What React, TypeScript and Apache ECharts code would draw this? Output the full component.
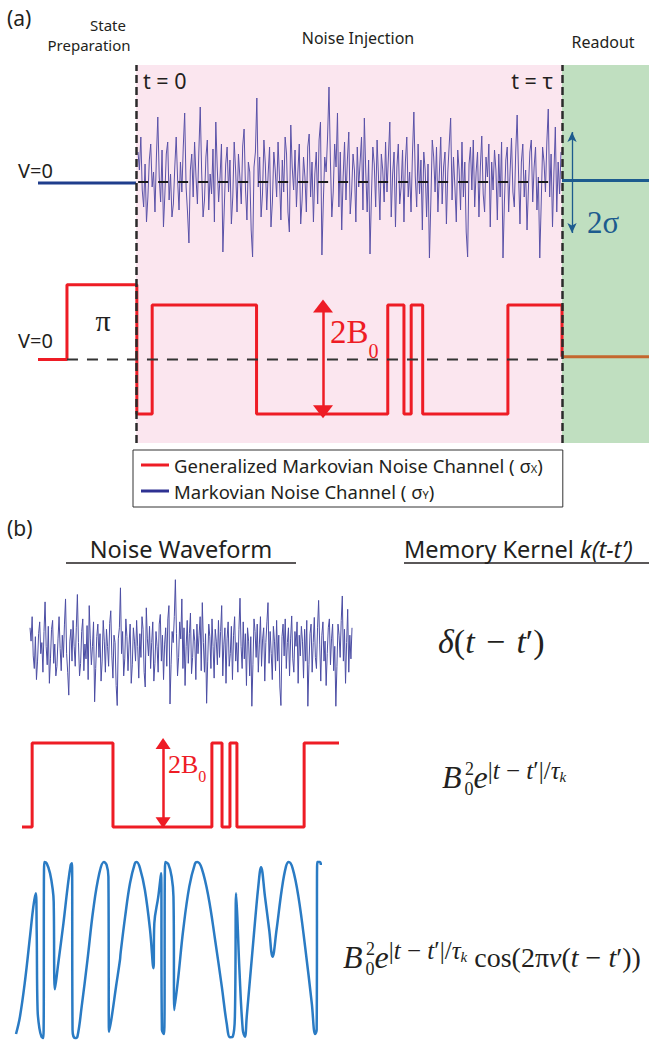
import React, { useEffect, useRef } from "react";
import * as echarts from "echarts";

// ---------------- data ----------------
// sampled noise trace (shared by both noise panels), one value per sample
const noise = [
  0.30, 0.12, 0.45, -0.08, -0.25, 0.18, -0.40, -0.15, 0.22, 0.38, -0.05, 0.10, -0.30, 0.25, 0.65, 0.05, -0.20, 0.32, -0.45, -0.12,
  0.28, 0.40, -0.18, 0.08, -0.35, -0.22, 0.15, 0.45, 0.02, -0.28, 0.20, -0.10, 0.35, 0.69, -0.05, -0.30, -0.61, 0.12, 0.28, -0.15,
  0.40, 0.05, -0.22, 0.30, 0.75, 0.10, -0.35, -0.18, 0.25, 0.42, -0.28, 0.08, -0.12, 0.33, -0.40, 0.60, 0.15, -0.20, 0.05, 0.38,
  -0.70, -0.25, 0.18, 0.35, -0.10, 0.22, -0.42, -0.15, 0.40, 0.12, -0.30, 0.28, 0.05, -0.22, 0.36, 0.53, -0.08, -0.38, 0.20, 0.10,
  -0.48, -0.75, 0.15, 0.30, 0.84, -0.05, 0.25, -0.35, -0.12, 0.42, 0.18, -0.28, 0.08, 0.35, -0.45, -0.20, 0.30, 0.12, -0.15, 0.40,
  0.05, -0.38, 0.22, -0.10, 0.45, 0.28, -0.30, -0.50, 0.57, 0.15, -0.08, 0.32, -0.25, 0.10, 0.38, -0.42, -0.18, 0.25, 0.05, -0.30,
  0.35, 0.48, -0.15, 0.20, -0.40, 0.08, 0.30, -0.22, 0.42, 0.60, -0.73, -0.20, 0.25, 0.10, 0.45, 0.95, 0.22, -0.35, -0.10, 0.38,
  0.15, 0.69, -0.25, 0.30, -0.48, 0.05, 0.40, -0.18, 0.22, 0.50, -0.32, -0.10, 0.28, 0.12, -0.40, 0.35, -0.05, 0.20, 0.45, -0.28,
  0.64, 0.10, -0.30, 0.22, -0.72, -0.15, 0.35, 0.18, -0.25, 0.42, 0.05, -0.38, 0.28, 0.12, -0.20, 0.40, -0.10, 0.25, 0.60, -0.35,
  0.08, 0.30, -0.45, 0.15, 0.38, -0.22, -0.05, 0.32, -0.40, 0.20, 0.45, -0.15, 0.10, -0.30, 0.28, 0.70, 0.05, -0.25, 0.38, -0.12,
  0.22, -0.48, 0.30, 0.12, -0.35, 0.18, -0.76, -0.20, 0.42, 0.25, -0.10, 0.35, -0.30, 0.08, 0.45, -0.22, 0.15, 0.30, -0.42, 0.10,
  0.38, 0.64, -0.18, 0.25, -0.05, -0.40, 0.32, 0.12, -0.28, 0.40, -0.15, 0.20, -0.50, -0.75, 0.18, 0.35, -0.08, 0.42, -0.25, 0.10,
  0.30, -0.35, 0.15, 0.46, -0.12, -0.30, 0.25, 0.05, 0.38, -0.45, 0.20, -0.08, 0.32, 0.12, -0.38, 0.28, -0.15, 0.40, -0.76, -0.20,
  0.22, 0.35, -0.30, 0.10, 0.44, -0.10, -0.25, 0.30, 0.67, 0.08, -0.42, 0.20, 0.38, -0.15, 0.12, -0.48, -0.05, 0.30, 0.42, -0.20,
  0.15, 0.35, -0.28, 0.05, -0.76, -0.22, 0.35, 0.20, -0.10, 0.40, 0.73, -0.15, 0.28, -0.45, 0.10, 0.55, -0.30, 0.20, -0.12, 0.30,
];

// telegraph signal of panel (a): [time (t/tau), level (units of B0)]
const telegraphA = [
  [-0.23, 0], [-0.162, 0], [-0.162, 1.37], [0.002, 1.37], [0.002, -1],
  [0.038, -1], [0.038, 1], [0.283, 1], [0.283, -1], [0.591, -1],
  [0.591, 1], [0.629, 1], [0.629, -1], [0.646, -1], [0.646, 1],
  [0.673, 1], [0.673, -1], [0.873, -1], [0.873, 1], [1.0, 1], [1.0, 0.05],
];
// telegraph signal of panel (b)
const telegraphB = [
  [0, -1], [0.032, -1], [0.032, 1], [0.287, 1], [0.287, -1],
  [0.599, -1], [0.599, 1], [0.631, 1], [0.631, -1], [0.656, -1],
  [0.656, 1], [0.678, 1], [0.678, -1], [0.89, -1], [0.89, 1], [1, 1],
];

// oscillating (cosine kernel) waveform of panel (b)
const waveT = [
  0, 0.013, 0.030, 0.046, 0.057, 0.065, 0.068, 0.071, 0.077, 0.084,
  0.090, 0.093, 0.101, 0.112, 0.121, 0.124, 0.128, 0.139, 0.156, 0.170,
  0.180, 0.184, 0.186, 0.194, 0.202, 0.216, 0.235, 0.254, 0.274, 0.289,
  0.298, 0.304, 0.306, 0.315, 0.329, 0.342, 0.344, 0.359, 0.375, 0.391,
  0.397, 0.408, 0.424, 0.441, 0.452, 0.455, 0.468, 0.477, 0.480, 0.487,
  0.491, 0.501, 0.512, 0.518, 0.521, 0.534, 0.550, 0.570, 0.589, 0.596,
  0.611, 0.633, 0.655, 0.677, 0.693, 0.704, 0.713, 0.720, 0.724, 0.728,
  0.735, 0.746, 0.753, 0.759, 0.781, 0.797, 0.806, 0.819, 0.833, 0.844,
  0.857, 0.874, 0.888, 0.897, 0.910, 0.929, 0.951, 0.973, 0.984, 0.989,
  0.991, 1.0, 1.003,
];
const waveV = [
  -0.955, -0.758, -0.341, 0.152, 0.492, 0.644, 0.227, -0.682, -0.890, -0.985,
  -1.0, 1.0, 0.985, 0.871, 0.682, 0.549, -0.447, -0.152, 0.303, 0.72,
  0.966, 0.985, -0.909, -1.0, -0.985, -0.644, -0.114, 0.455, 0.871, 1.0,
  0.966, 0.833, -0.928, -0.758, -0.417, -0.114, -0.038, 0.379, 0.758, 0.985,
  1.0, 0.928, 0.682, 0.227, -0.208, 0.303, 0.606, 0.871, -0.909, -0.955,
  1.0, 0.977, 0.833, 0.606, -0.682, -0.303, 0.227, 0.72, 0.985, 1.0,
  0.928, 0.606, 0.114, -0.417, -0.833, -0.992, -0.985, -0.758, 0.644, 0.379,
  -0.227, -0.909, -0.985, -0.758, 0.114, 0.72, 0.939, 0.606, 0.227, -0.076,
  0.227, 0.682, 0.947, 1.0, 0.928, 0.606, 0.038, -0.606, -0.955, -0.909,
  1.0, 1.0, 0.966,
];

const legendNames = ["Generalized Markovian Noise Channel", "Markovian Noise Channel"];

// ---------------- styling ----------------
const SERIF = "'Liberation Serif', 'DejaVu Serif', serif";
const SANS = "'Noto Sans', 'Liberation Sans', sans-serif";
const RED = "#ee1c25";
const INK = "#231f20";
const PINK = "#fbe6ef";
const GREEN = "#c0dfc0";
const NAVY = "#1f3d8c";
const TEAL = "#1d5b8e";
const NOISE = "#5a52a8";
const WAVE = "#2a7bc4";

const T_MIN = -0.23;
const T_MAX = 1.2042;

function text(x: number, y: number, str: string, o: any = {}) {
  const align = o.align || "left";
  const va = o.va || "middle";
  return {
    type: "text",
    x,
    y,
    silent: true,
    z: 50,
    style: {
      text: str,
      fill: o.fill || INK,
      fontSize: o.size || 16,
      fontFamily: o.family || SANS,
      fontStyle: o.italic ? "italic" : "normal",
      align,
      textAlign: align,
      verticalAlign: va,
      textVerticalAlign: va,
      rich: o.rich,
    },
  };
}

function hline(x1: number, x2: number, y: number, w = 1.5) {
  return {
    type: "line",
    silent: true,
    z: 50,
    shape: { x1, y1: y, x2, y2: y },
    style: { stroke: INK, lineWidth: w },
  };
}

function kernelRich(main: number, sup: number, tail: number) {
  return {
    B: { fontFamily: SERIF, fontStyle: "italic", fontSize: main, lineHeight: 48, fill: INK, padding: [0, 3, 0, 0] },
    m: { fontFamily: SERIF, fontStyle: "italic", fontSize: main, lineHeight: 48, fill: INK },
    s0: { fontFamily: SERIF, fontSize: 18, height: 25, verticalAlign: "bottom", fill: INK },
    p: { fontFamily: SERIF, fontSize: sup, height: 34, verticalAlign: "top", fill: INK },
    pi: { fontFamily: SERIF, fontStyle: "italic", fontSize: sup, height: 34, verticalAlign: "top", fill: INK },
    k: { fontFamily: SERIF, fontStyle: "italic", fontSize: 15, height: 48, verticalAlign: "top", fill: INK },
    c: { fontFamily: SERIF, fontSize: tail, lineHeight: 48, fill: INK },
    ci: { fontFamily: SERIF, fontStyle: "italic", fontSize: tail, lineHeight: 48, fill: INK },
  };
}

const kernelExp = "{B|B}{s0|0}{m|e}{p||}{pi|t}{p| \u2212 }{pi|t}{p|\u2032|/}{pi|\u03c4}{k|k}";
const cosTail = "{c| cos(2\u03c0}{ci|\u03bd}{c|(}{ci|t}{c| \u2212 }{ci|t}{c|\u2032))}";

function buildOption() {
  const gridA = { left: 38, width: 611 };
  const noisePairs = noise.map((v, i) => [i, v]);
  const wave = waveT.map((t, i) => [t, waveV[i]]);

  const hiddenX = (min: number, max: number, gridIndex: number) => ({
    type: "value", min, max, gridIndex, show: false,
  });
  const hiddenY = (min: number, max: number, gridIndex: number) => ({
    type: "value", min, max, gridIndex, show: false,
  });

  return {
    animation: false,
    backgroundColor: "#ffffff",
    grid: [
      { ...gridA, top: 65, height: 378 },               // 0 background
      { ...gridA, top: 82, height: 200 },               // 1 blue channel lines
      { left: 138, width: 423, top: 82, height: 200 },  // 2 noise (a)
      { ...gridA, top: 305, height: 109 },              // 3 telegraph (a)
      { left: 30, width: 322, top: 576, height: 148 },  // 4 noise (b)
      { left: 22, width: 317, top: 743, height: 84 },   // 5 telegraph (b)
      { left: 16, width: 304, top: 862, height: 176 },  // 6 oscillating (b)
    ],
    xAxis: [
      hiddenX(T_MIN, T_MAX, 0),
      hiddenX(T_MIN, T_MAX, 1),
      hiddenX(0, noise.length - 1, 2),
      hiddenX(T_MIN, T_MAX, 3),
      hiddenX(0, noise.length - 1, 4),
      hiddenX(0, 1, 5),
      hiddenX(0, 1, 6),
    ],
    yAxis: [
      hiddenY(0, 1, 0),
      hiddenY(-1, 1, 1),
      hiddenY(-1, 1, 2),
      hiddenY(-1, 1, 3),
      hiddenY(-1, 1, 4),
      hiddenY(-1, 1, 5),
      hiddenY(-1, 1, 6),
    ],
    legend: {
      data: [
        { name: legendNames[0], itemStyle: { color: RED } },
        { name: legendNames[1], itemStyle: { color: "#2e3192" } },
      ],
      orient: "vertical",
      left: 133,
      top: 450,
      icon: "rect",
      itemWidth: 28,
      itemHeight: 3,
      itemGap: 6,
      selectedMode: false,
      borderColor: "#333",
      borderWidth: 1,
      borderRadius: 0,
      padding: [5, 20, 6, 8],
      textStyle: {
        fontFamily: SANS,
        fontSize: 18.5,
        color: INK,
        lineHeight: 20,
        rich: {
          g: { fontFamily: SANS, fontSize: 18.5, color: INK, lineHeight: 20 },
          x: { fontFamily: SANS, fontSize: 11, color: INK, height: 14, verticalAlign: "bottom" },
        },
      },
      formatter: (name: string) =>
        name === legendNames[0] ? `{g|${name} ( \u03c3}{x|X}{g|)}` : `{g|${name} ( \u03c3}{x|Y}{g|)}`,
    },
    series: [
      {
        type: "line", xAxisIndex: 0, yAxisIndex: 0, z: 1, silent: true,
        data: [[T_MIN, 0]], symbol: "none", lineStyle: { width: 0 },
        markArea: {
          silent: true,
          itemStyle: { opacity: 1 },
          data: [
            [{ xAxis: 0, yAxis: 0, itemStyle: { color: PINK } }, { xAxis: 1, yAxis: 1 }],
            [{ xAxis: 1, yAxis: 0, itemStyle: { color: GREEN } }, { xAxis: T_MAX, yAxis: 1 }],
          ],
        },
      },
      // blue channel: idle lines
      {
        type: "line", xAxisIndex: 1, yAxisIndex: 1, z: 3, silent: true, symbol: "none",
        data: [[T_MIN, -0.01], [0, -0.01]], lineStyle: { color: NAVY, width: 3 },
      },
      {
        type: "line", xAxisIndex: 1, yAxisIndex: 1, z: 3, silent: true, symbol: "none",
        data: [[1, 0.015], [T_MAX, 0.015]], lineStyle: { color: TEAL, width: 3 },
      },
      // noise (a)
      {
        name: legendNames[1],
        type: "line", xAxisIndex: 2, yAxisIndex: 2, z: 3, silent: true, symbol: "none",
        data: noisePairs, lineStyle: { color: NOISE, width: 1 }, itemStyle: { color: NOISE },
      },
      // zero reference (a, blue)
      {
        type: "line", xAxisIndex: 1, yAxisIndex: 1, z: 4, silent: true, symbol: "none",
        data: [[0.005, 0], [0.99, 0]], lineStyle: { color: "#1a1a1a", width: 2, type: [10, 10] },
        markLine: {
          silent: true,
          symbol: ["arrow", "arrow"],
          symbolSize: [7, 10],
          label: { show: false },
          lineStyle: { color: TEAL, width: 1.3, type: "solid" },
          data: [[{ coord: [1.0235, 0.5] }, { coord: [1.0235, -0.51] }]],
        },
      },
      // telegraph (a)
      {
        name: legendNames[0],
        type: "line", xAxisIndex: 3, yAxisIndex: 3, z: 3, silent: true, symbol: "none", clip: false,
        data: telegraphA, lineStyle: { color: RED, width: 3 }, itemStyle: { color: RED },
        markLine: {
          silent: true,
          symbol: ["triangle", "triangle"],
          symbolSize: [20, 13],
          label: { show: false },
          lineStyle: { color: RED, width: 2.5, type: "solid" },
          data: [[{ coord: [0.439, 0.98] }, { coord: [0.439, -0.96] }]],
        },
      },
      {
        type: "line", xAxisIndex: 3, yAxisIndex: 3, z: 4, silent: true, symbol: "none",
        data: [[-0.162, 0], [1, 0]], lineStyle: { color: "#333", width: 2, type: [11, 9] },
      },
      {
        type: "line", xAxisIndex: 3, yAxisIndex: 3, z: 3, silent: true, symbol: "none",
        data: [[1, 0.05], [T_MAX, 0.05]], lineStyle: { color: "#c4672e", width: 3 },
      },
      // vertical time markers
      {
        type: "line", xAxisIndex: 0, yAxisIndex: 0, z: 8, silent: true, symbol: "none",
        data: [[T_MIN, 0]], lineStyle: { width: 0 },
        markLine: {
          silent: true,
          symbol: "none",
          label: { show: false },
          lineStyle: { color: "#2b2b2b", width: 2.5, type: [8, 4] },
          data: [{ xAxis: 0 }, { xAxis: 1 }],
        },
      },
      // noise (b)
      {
        type: "line", xAxisIndex: 4, yAxisIndex: 4, z: 3, silent: true, symbol: "none",
        data: noisePairs, lineStyle: { color: "#4c4ea4", width: 1 },
      },
      // telegraph (b)
      {
        type: "line", xAxisIndex: 5, yAxisIndex: 5, z: 3, silent: true, symbol: "none", clip: false,
        data: telegraphB, lineStyle: { color: RED, width: 3 },
        markLine: {
          silent: true,
          symbol: ["triangle", "triangle"],
          symbolSize: [15, 11],
          label: { show: false },
          lineStyle: { color: RED, width: 2.5, type: "solid" },
          data: [[{ coord: [0.445, 0.99] }, { coord: [0.445, -0.9] }]],
        },
      },
      // oscillating kernel waveform (b)
      {
        type: "line", xAxisIndex: 6, yAxisIndex: 6, z: 3, silent: true, symbol: "none", clip: false,
        data: wave, smooth: 0.4, lineStyle: { color: WAVE, width: 2.5 },
      },
    ],
    graphic: [
      text(7, 18, "(a)", { size: 21 }),
      text(108, 25, "State", { size: 15, align: "center" }),
      text(89, 45, "Preparation", { size: 15, align: "center" }),
      text(358, 38, "Noise Injection", { size: 16, align: "center" }),
      text(603, 42, "Readout", { size: 16, align: "center" }),
      text(143, 80, "t = 0", { size: 21.5 }),
      text(553, 80, "t = \u03c4", { size: 21.5, align: "right" }),
      text(18, 170, "V=0", { size: 20 }),
      text(18, 340, "V=0", { size: 20 }),
      text(103, 320, "\u03c0", { size: 30, family: SERIF, align: "center" }),
      text(587, 222, "2\u03c3", { size: 31, family: SERIF, fill: TEAL }),
      text(330, 307, "{a|2B}{b|0}", {
        va: "top",
        rich: {
          a: { fontFamily: SERIF, fontSize: 33, lineHeight: 50, fill: RED },
          b: { fontFamily: SERIF, fontSize: 20, height: 13, verticalAlign: "bottom", fill: RED },
        },
      }),
      text(7, 528, "(b)", { size: 21 }),
      text(181, 549, "Noise Waveform", { size: 23.5, align: "center" }),
      hline(66, 296, 563),
      text(404, 549, "{n|Memory Kernel }{i|k(t-t\u2019)}", {
        rich: {
          n: { fontFamily: SANS, fontSize: 23.5, fill: INK },
          i: { fontFamily: SANS, fontSize: 23.5, fontStyle: "italic", fill: INK },
        },
      }),
      hline(404, 649, 563),
      text(168, 744, "{a|2B}{b|0}", {
        va: "top",
        rich: {
          a: { fontFamily: SERIF, fontSize: 26, lineHeight: 40, fill: RED },
          b: { fontFamily: SERIF, fontSize: 16, height: 15, verticalAlign: "bottom", fill: RED },
        },
      }),
      // kernels
      text(438, 641, "{m|\u03b4}{r|(}{m|t}{r|\u2004\u2212\u2004}{m|t}{r|\u2032)}", {
        rich: {
          m: { fontFamily: SERIF, fontStyle: "italic", fontSize: 34, fill: INK },
          r: { fontFamily: SERIF, fontSize: 34, fill: INK },
        },
      }),
      text(442, 753, kernelExp, { va: "top", rich: kernelRich(32, 25, 28) }),
      text(465, 769, "2", { size: 18, family: SERIF }),
      text(343, 933, kernelExp + cosTail, { va: "top", rich: kernelRich(32, 25, 28) }),
      text(366, 949, "2", { size: 18, family: SERIF }),
    ],
  };
}

export default function App() {
  const ref = useRef<HTMLDivElement>(null);
  useEffect(() => {
    if (!ref.current) return;
    const chart = echarts.init(ref.current, null, { renderer: "svg" });
    chart.setOption(buildOption() as any);
    return () => chart.dispose();
  }, []);
  return (
    <div
      ref={ref}
      style={{ position: "absolute", left: 0, top: 0, width: 649, height: 1040, background: "#fff" }}
    />
  );
}
